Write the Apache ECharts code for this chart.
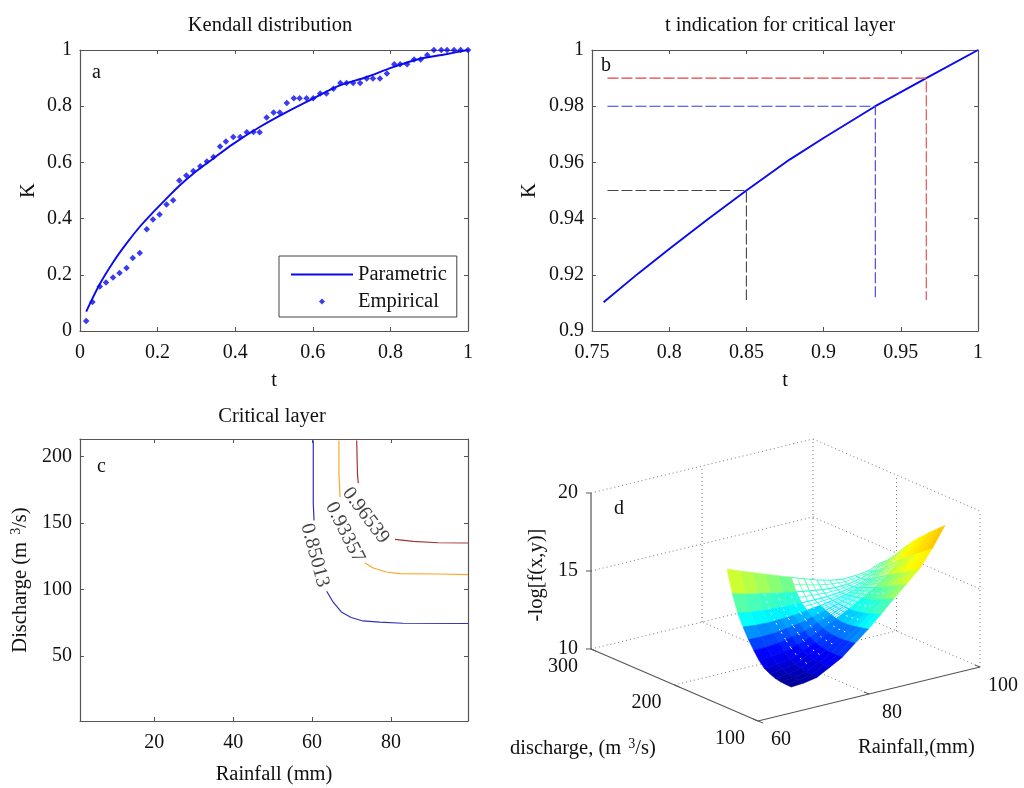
<!DOCTYPE html>
<html><head><meta charset="utf-8">
<style>html,body{margin:0;padding:0;background:#fff}#c{width:1024px;height:788px}</style>
<script src="https://cdn.jsdelivr.net/npm/echarts@6/dist/echarts.min.js"></script>
</head><body><div id="c"></div>
<script>
// Panel a
const paramT=[.016,.051,.085,.119,.154,.188,.222,.256,.291,.342,.394,.462,.531,.599,.668,.737,.805,.874,.943,1];
const paramK=[.069,.167,.244,.310,.371,.422,.470,.517,.559,.612,.665,.725,.778,.826,.873,.903,.938,.968,.985,1];
const empT=[.016,.032,.051,.067,.085,.102,.120,.136,.154,.172,.188,.205,.223,.240,.256,.274,.292,.310,.327,.344,.361,.376,.395,.413,.430,.447,.463,.481,.499,.515,.533,.551,.566,.584,.601,.619,.635,.653,.671,.687,.704,.722,.739,.755,.773,.791,.810,.825,.843,.861,.878,.895,.912,.931,.946,.964,.981,1];
const empK=[.036,.103,.158,.173,.190,.206,.224,.260,.278,.362,.397,.415,.450,.465,.536,.553,.569,.586,.603,.619,.657,.674,.690,.690,.707,.708,.707,.760,.778,.778,.811,.828,.828,.828,.828,.845,.845,.862,.883,.883,.883,.883,.899,.899,.899,.916,.949,.949,.949,.966,.966,.982,1,1,1,1,1,1];
// Panel b
const layerT=[.7575,.78,.8,.825,.85,.878,.9,.9335,.9665,1];
const layerK=[.9102,.9205,.9292,.9398,.95,.961,.9687,.98,.99,1];
const dashBlack=[[.76,.95],[.85,.95],[.85,.911]];
const dashBlue=[[.76,.98],[.9335,.98],[.9335,.911]];
const dashRed=[[.76,.99],[.9665,.99],[.9665,.911]];
// Panel c
const contourBlueA=[[60.3,211.8],[60.3,164.3],[60.5,151.8]];
const contourBlueB=[[63.7,98.5],[65.3,90.5],[67.4,83],[69.9,78.8],[72.9,76.2],[77.1,75.3],[83,74.5],[99.5,74.3]];
const contourOrangeA=[[66.8,211.8],[66.8,186.8],[67.1,169.3]];
const contourOrangeB=[[73.4,119.8],[75.5,116],[78.8,113],[82.2,111.8],[91.9,111.5],[99.5,111]];
const contourRedA=[[71.3,211.8],[71.5,186.8],[71.7,179.8]];
const contourRedB=[[81,137.5],[85.6,136],[91.9,135],[99.5,134.8]];
const contourLabels=[[60.7,125.5,'0.85013',-75],[68.3,142.8,'0.93357',-63],[73.6,155.5,'0.96539',-53]];
const cXTicks=[20,40,60,80];
const cYTicks=[50,100,150,200];
// Panel d
const rainGrid=[69,71.3,73.6,75.9,78.2,80.5,82.9,85.2,87.5,89.8,92.1,94.4,96.7];
const dischargeGrid=[120,126.4,132.8,139.3,145.7,152.1,158.5,164.9,171.3,177.8,184.2,190.6,197];
const surfaceZ=[
[10.94,11.00,11.15,11.60,12.05,12.75,13.45,14.20,15.00,15.75,16.50,17.60,18.90],
[10.95,11.02,11.18,11.61,12.04,12.70,13.36,14.07,14.83,15.55,16.28,17.34,18.60],
[10.98,11.06,11.22,11.63,12.04,12.66,13.28,13.94,14.66,15.34,16.06,17.08,18.30],
[11.05,11.13,11.30,11.68,12.06,12.64,13.21,13.83,14.50,15.15,15.84,16.82,18.00],
[11.20,11.28,11.43,11.78,12.13,12.65,13.17,13.73,14.34,14.95,15.61,16.52,17.65],
[11.38,11.46,11.60,11.92,12.24,12.70,13.16,13.67,14.22,14.78,15.41,16.28,17.35],
[11.75,11.80,11.92,12.18,12.45,12.84,13.23,13.65,14.13,14.63,15.21,16.00,17.00],
[12.25,12.26,12.34,12.53,12.72,13.03,13.33,13.66,14.05,14.47,14.98,15.68,16.60],
[12.80,12.77,12.80,12.92,13.04,13.25,13.46,13.69,13.99,14.32,14.76,15.38,16.20],
[13.45,13.37,13.33,13.37,13.41,13.52,13.62,13.75,13.93,14.17,14.53,15.03,15.75],
[14.20,14.06,13.96,13.91,13.86,13.85,13.84,13.85,13.93,14.07,14.34,14.73,15.35],
[15.30,15.07,14.89,14.72,14.55,14.41,14.27,14.14,14.08,14.09,14.26,14.52,15.00],
[16.73,16.40,16.10,15.80,15.50,15.20,14.90,14.62,14.40,14.27,14.30,14.40,14.73]];
const rainTicks=[60,80,100];
const dischargeTicks=[100,200,300];
const zTicks=[10,15,20];
const colorStops=[10.9,11.5,12.0,13.0,13.7,14.6,15.5,16.5,18,19];
const colorRamp=['#00008f','#0000e0','#0000ff','#007fff','#00ffff','#50ffb0','#b0ff50','#ffff00','#ffd000','#ff9000'];

const serif='"Liberation Serif","Times New Roman",serif';
const ink='#111', axisInk='#555';
const FS=20, NS=20.5;
function pairs(a,b){return a.map((v,i)=>[v,b[i]]);}
// oblique view of the 3D box, in page units of the hidden panel-d axes
function project(r,q,z){
  const a=(r-60)/40,b=(q-100)/200;
  return [758+a*222-b*167, 721-a*54-b*72-(z-10)*15.6];
}
function surfColor(z){
  if(z<=colorStops[0])return colorRamp[0];
  for(let i=1;i<colorStops.length;i++){
    if(z<=colorStops[i]){
      return echarts.color.lerp((z-colorStops[i-1])/(colorStops[i]-colorStops[i-1]),[colorRamp[i-1],colorRamp[i]]);
    }
  }
  return colorRamp[colorRamp.length-1];
}
function boxAxes(gridIndex,xo,yo){
  const base={gridIndex,axisLine:{show:true,onZero:false,lineStyle:{color:axisInk,width:1.2}},
    axisTick:{show:true,inside:true,length:4,lineStyle:{color:axisInk}},splitLine:{show:false}};
  const lab={color:ink,fontFamily:serif,fontSize:FS};
  const x=Object.assign({},base,{type:'value',position:'bottom',axisLabel:Object.assign({margin:12,hideOverlap:false,showMinLabel:true,showMaxLabel:true},lab)},xo);
  const y=Object.assign({},base,{type:'value',position:'left',axisLabel:Object.assign({margin:8,hideOverlap:false,showMinLabel:true,showMaxLabel:true},lab)},yo);
  const nameLab={color:ink,fontFamily:serif,fontSize:NS};
  x.nameTextStyle=Object.assign({},nameLab,x.nameTextStyle||{});
  y.nameTextStyle=Object.assign({},nameLab,y.nameTextStyle||{});
  const x2=Object.assign({},x,{position:'top',name:'',axisLabel:{show:false}});
  const y2=Object.assign({},y,{position:'right',name:'',axisLabel:{show:false}});
  return {x:[x,x2],y:[y,y2]};
}
const pa=boxAxes(0,{min:0,max:1,interval:.2,name:'t',nameLocation:'middle',nameGap:39},{min:0,max:1,interval:.2,name:'K',nameLocation:'middle',nameGap:41});
const pb=boxAxes(1,{min:.75,max:1,interval:.05,name:'t',nameLocation:'middle',nameGap:39},{min:.9,max:1,interval:.02,name:'K',nameLocation:'middle',nameGap:52});
const pc=boxAxes(2,{min:1.2,max:99.5,name:'Rainfall (mm)',nameLocation:'middle',nameGap:43,
  axisTick:{show:true,inside:true,length:4,lineStyle:{color:axisInk},customValues:cXTicks},
  axisLabel:{margin:12,color:ink,fontFamily:serif,fontSize:FS,customValues:cXTicks}},
  {min:1,max:213,name:'{n|Discharge (m }{s|3}{n|/s)}',nameLocation:'middle',nameGap:48,
  nameTextStyle:{rich:{n:{fontFamily:serif,fontSize:NS,color:ink},s:{fontFamily:serif,fontSize:14,color:ink,padding:[0,0,9,2]}}},
  axisTick:{show:true,inside:true,length:4,lineStyle:{color:axisInk},customValues:cYTicks},
  axisLabel:{margin:8,color:ink,fontFamily:serif,fontSize:FS,customValues:cYTicks}});
const hiddenX={type:'value',gridIndex:3,min:0,max:1024,show:false};
const hiddenY={type:'value',gridIndex:3,min:0,max:788,inverse:true,show:false};

const xAxes=[pa.x[0],pa.x[1],pb.x[0],pb.x[1],pc.x[0],pc.x[1],hiddenX];
const yAxes=[pa.y[0],pa.y[1],pb.y[0],pb.y[1],pc.y[0],pc.y[1],hiddenY];

function contour(name,data,color){
  return {name,type:'line',xAxisIndex:4,yAxisIndex:4,data,showSymbol:false,symbol:'none',smooth:false,lineStyle:{color,width:1.2},silent:true};
}
function dash(data,color){
  return {type:'line',xAxisIndex:2,yAxisIndex:2,data,symbol:'none',lineStyle:{color,width:1.1,type:[11,3]},silent:true};
}

// surface cells, far to near
const cells=[];
for(let k=0;k<12;k++)for(let j=0;j<12;j++)cells.push([j,k]);
cells.sort((p,q)=>(q[0]+q[1])-(p[0]+p[1]));
function isOpen(j,k){
  if(j===5) return k>=9;
  if(j>=6&&j<=10) return k>=6;
  if(j===11) return k>=7;
  return false;
}
function isSpeckled(j,k){
  return (k>=3&&k<=6&&j>=2&&j<=8)||(k>=7&&k<=10&&j>=2&&j<=5);
}
function bil(j,k,s,t){
  const g=(a,b)=>project(rainGrid[a],dischargeGrid[b],surfaceZ[b][a]);
  const p00=g(j,k),p10=g(j+1,k),p11=g(j+1,k+1),p01=g(j,k+1);
  return [0,1].map(i=>(1-s)*(1-t)*p00[i]+s*(1-t)*p10[i]+s*t*p11[i]+(1-s)*t*p01[i]);
}
function renderCell(params,api){
  const j=api.value(0),k=api.value(1);
  const corners=[[j,k],[j+1,k],[j+1,k+1],[j,k+1]];
  let sum=0;
  const pts=corners.map(([a,b])=>{
    const z=surfaceZ[b][a];sum+=z;
    return api.coord(project(rainGrid[a],dischargeGrid[b],z));
  });
  const col=surfColor(sum/4);
  if(isOpen(j,k)){
    const kids=[{type:'polygon',shape:{points:pts},style:{fill:'#fff',stroke:col,lineWidth:1}}];
    const n=k>=9?2:3;
    for(let i=1;i<n;i++){
      const f=i/n;
      let a=api.coord(bil(j,k,f,0)),b=api.coord(bil(j,k,f,1));
      kids.push({type:'line',shape:{x1:a[0],y1:a[1],x2:b[0],y2:b[1]},style:{stroke:col,lineWidth:.8}});
      a=api.coord(bil(j,k,0,f));b=api.coord(bil(j,k,1,f));
      kids.push({type:'line',shape:{x1:a[0],y1:a[1],x2:b[0],y2:b[1]},style:{stroke:col,lineWidth:.8}});
    }
    return {type:'group',children:kids};
  }
  const poly={type:'polygon',shape:{points:pts},style:{fill:col,stroke:col,lineWidth:.6}};
  if(isSpeckled(j,k)){
    const a=api.coord(bil(j,k,.5,0)),b=api.coord(bil(j,k,.5,1));
    return {type:'group',children:[poly,{type:'line',shape:{x1:a[0],y1:a[1],x2:b[0],y2:b[1]},style:{stroke:'#fff',lineWidth:1,lineDash:[2,5]}}]};
  }
  return poly;
}
// box lines in data coordinates of panel d
const dotted=[];
[10,15,20].forEach(z=>{
  dotted.push([[60,300,z],[100,300,z]]);
  dotted.push([[100,300,z],[100,100,z]]);
});
dotted.push([[80,300,10],[80,300,20]],[[100,300,10],[100,300,20]],[[100,200,10],[100,200,20]],[[100,100,10],[100,100,20]]);
dotted.push([[80,100,10],[80,300,10]],[[60,200,10],[100,200,10]]);
const solid=[[[60,300,10],[60,300,20]],[[60,300,10],[60,100,10]],[[60,100,10],[100,100,10]]];
function segSeries(list,style){
  return {type:'custom',xAxisIndex:6,yAxisIndex:6,silent:true,clip:false,coordinateSystem:'cartesian2d',
    data:list.map((s,i)=>[i,0]),
    renderItem(params,api){
      const s=list[api.value(0)];
      const p=api.coord(project(...s[0])),q=api.coord(project(...s[1]));
      return {type:'line',shape:{x1:p[0],y1:p[1],x2:q[0],y2:q[1]},style};
    }};
}
// tick marks + labels on the panel d axes
const tickList=[];
zTicks.forEach(v=>tickList.push({p:[60,300,v],t:[5,0],l:[-23,0],v}));
dischargeTicks.forEach(v=>tickList.push({p:[60,v,10],t:[-5,-2],l:[-28,18],v}));
rainTicks.forEach(v=>tickList.push({p:[v,100,10],t:[5,2],l:[23,19],v}));
const tickSeries={type:'custom',xAxisIndex:6,yAxisIndex:6,silent:true,clip:false,
  data:tickList.map((t,i)=>[i,0]),
  renderItem(params,api){
    const t=tickList[api.value(0)];
    const c=api.coord(project(...t.p));
    return {type:'group',children:[
      {type:'line',shape:{x1:c[0]-t.t[0],y1:c[1]-t.t[1],x2:c[0],y2:c[1]},style:{stroke:axisInk,lineWidth:1}},
      {type:'text',style:{x:c[0]+t.l[0],y:c[1]+t.l[1],text:String(t.v),fill:ink,font:FS+'px '+serif,textAlign:'center',textVerticalAlign:'middle'}}
    ]};
  }};

const titleText=(text,x,y)=>({text,left:x,top:y,textAlign:'center',textStyle:{color:ink,fontFamily:serif,fontSize:NS,fontWeight:'normal'},padding:0});
const txt=(text,x,y)=>({type:'text',left:x,top:y,z:50,style:{text,fill:ink,font:'20px '+serif}});
const supRich={n:{fontFamily:serif,fontSize:NS,fill:ink},s:{fontFamily:serif,fontSize:14,fill:ink,padding:[0,0,9,2]}};

const chart=echarts.init(document.getElementById('c'),null,{renderer:'canvas'});
chart.setOption({
  animation:false,backgroundColor:'#fff',
  title:[titleText('Kendall distribution',270,15),titleText('t indication for critical layer',780,15),titleText('Critical layer',272,406)],
  grid:[
    {left:80,top:50,width:388,height:281},
    {left:592,top:50,width:386,height:281},
    {left:80,top:439,width:388,height:282},
    {left:0,top:0,width:1024,height:788}
  ],
  xAxis:xAxes,yAxis:yAxes,
  legend:{left:279,top:256,orient:'vertical',itemWidth:62,itemHeight:14,itemGap:6,
    padding:[8,10,5,12],borderColor:'#444',borderWidth:1,backgroundColor:'#fff',
    textStyle:{color:ink,fontFamily:serif,fontSize:NS},selectedMode:false,
    data:[{name:'Parametric',icon:'path://M0 0L0 0M62 0L62 0M62 14L62 14M0 14L0 14M0 6H62V8H0Z'},
          {name:'Empirical',icon:'path://M0 0L0 0M62 0L62 0M62 14L62 14M0 14L0 14M31 4L34 7L31 10L28 7Z'}]},
  graphic:[
    txt('a',92,63),txt('b',601,56),txt('c',97,457),txt('d',614,499),
    {type:'text',x:510,y:737,z:50,style:{text:'{n|discharge, (m }{s|3}{n|/s)}',rich:supRich,fill:ink}},
    {type:'text',x:858,y:737,z:50,style:{text:'Rainfall,(mm)',fill:ink,font:NS+'px '+serif}},
    {type:'text',x:537,y:575,rotation:Math.PI/2,z:50,style:{text:'-log[f(x,y)]',fill:ink,font:NS+'px '+serif,textAlign:'center',textVerticalAlign:'middle'}}
  ],
  series:[
    {name:'Parametric',type:'line',xAxisIndex:0,yAxisIndex:0,data:pairs(paramT,paramK),symbol:'none',smooth:.3,lineStyle:{color:'#0a0af0',width:1.9},itemStyle:{color:'#0a0af0'}},
    {name:'Empirical',type:'scatter',xAxisIndex:0,yAxisIndex:0,data:pairs(empT,empK),symbol:'diamond',symbolSize:6.5,itemStyle:{color:'#0a0af0'},clip:false},
    {type:'line',xAxisIndex:2,yAxisIndex:2,data:pairs(layerT,layerK),symbol:'none',lineStyle:{color:'#0a0af0',width:1.9}},
    dash(dashBlack,'#444'),dash(dashBlue,'#3a3ae8'),dash(dashRed,'#e84040'),
    contour('b1',contourBlueA,'#3030b8'),contour('b2',contourBlueB,'#3030b8'),
    contour('o1',contourOrangeA,'#ffa628'),contour('o2',contourOrangeB,'#ffa628'),
    contour('r1',contourRedA,'#a83232'),contour('r2',contourRedB,'#a83232'),
    {type:'scatter',xAxisIndex:4,yAxisIndex:4,symbolSize:0,silent:true,
      data:contourLabels.map(l=>({value:[l[0],l[1]],label:{show:true,position:'inside',formatter:l[2],rotate:l[3],color:ink,fontFamily:serif,fontSize:FS}}))},
    segSeries(dotted,{stroke:'#777',lineWidth:1,lineDash:[1,3]}),
    segSeries(solid,{stroke:axisInk,lineWidth:1.2}),
    tickSeries,
    {type:'custom',xAxisIndex:6,yAxisIndex:6,silent:true,clip:false,data:cells,renderItem:renderCell}
  ]
});
</script></body></html>
